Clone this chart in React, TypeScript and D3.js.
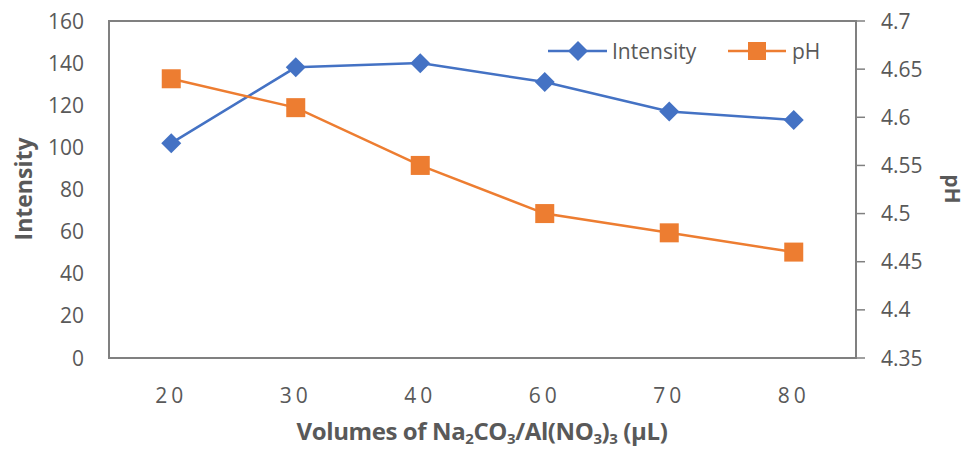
import React from "react";
import { scaleBand, scaleLinear, line } from "d3";

const volumes = ["20", "30", "40", "60", "70", "80"];
const intensity = [102, 138, 140, 131, 117, 113];
const ph = [4.64, 4.61, 4.55, 4.5, 4.48, 4.46];
const leftTicks = [0, 20, 40, 60, 80, 100, 120, 140, 160];
const rightTicks = [4.35, 4.4, 4.45, 4.5, 4.55, 4.6, 4.65, 4.7];

const BLUE = "#4472C4";
const ORANGE = "#ED7D31";
const AXIS = "#808080";
const TEXT = "#595959";
const FONT = "'Open Sans', 'Noto Sans', sans-serif";
const FS = 21;

function App() {
  const width = 969;
  const height = 451;
  const margin = { top: 21, right: 113, bottom: 93, left: 109 };

  const x = scaleBand<string>()
    .domain(volumes)
    .range([margin.left, width - margin.right]);
  const yL = scaleLinear().domain([0, 160]).range([height - margin.bottom, margin.top]);
  const yR = scaleLinear().domain([4.35, 4.7]).range([height - margin.bottom, margin.top]);
  const cx = (v: string) => (x(v) as number) + x.bandwidth() / 2;

  const intensityLine = line<number>()
    .x((_, i) => cx(volumes[i]))
    .y(d => yL(d));
  const phLine = line<number>()
    .x((_, i) => cx(volumes[i]))
    .y(d => yR(d));

  const x0 = margin.left;
  const x1 = width - margin.right;
  const yTop = margin.top;
  const yBot = height - margin.bottom;

  const diamond = (px: number, py: number, r: number) =>
    `M${px},${py - r}L${px + r},${py}L${px},${py + r}L${px - r},${py}Z`;

  return (
    <svg width={width} height={height} style={{ position: "absolute", left: 0, top: 0 }}>
      <rect x={0} y={0} width={width} height={height} fill="#fff" />
      {/* plot area border */}
      <rect x={x0} y={yTop} width={x1 - x0} height={yBot - yTop} fill="none" stroke={AXIS} strokeWidth={2} />

      {/* left axis labels */}
      {leftTicks.map(t => (
        <text key={t} x={84} y={yL(t)} dy="0.36em" textAnchor="end" fontSize={FS} fill={TEXT} fontFamily={FONT}>
          {t}
        </text>
      ))}

      {/* right axis ticks and labels */}
      {rightTicks.map(t => (
        <g key={t}>
          <line x1={x1} x2={x1 + 9} y1={yR(t)} y2={yR(t)} stroke={AXIS} strokeWidth={1.5} />
          <text x={881} y={yR(t)} dy="0.36em" fontSize={FS} fill={TEXT} fontFamily={FONT}>
            {t}
          </text>
        </g>
      ))}

      {/* x axis labels */}
      {volumes.map(v => (
        <text key={v} x={cx(v)} y={395} dy="0.36em" textAnchor="middle" fontSize={FS} letterSpacing={4} fill={TEXT} fontFamily={FONT}>
          {v}
        </text>
      ))}

      {/* axis titles */}
      <text
        transform={`translate(32, 189) rotate(-90)`}
        textAnchor="middle"
        fontSize={23}
        fontWeight="bold"
        fill={TEXT}
        fontFamily={FONT}
      >
        Intensity
      </text>
      <text
        transform={`translate(945, 189) rotate(90)`}
        textAnchor="middle"
        fontSize={21}
        fontWeight="bold"
        fill={TEXT}
        fontFamily={FONT}
      >
        pH
      </text>
      <text x={482} y={440} textAnchor="middle" fontSize={24} fontWeight="bold" fill={TEXT} fontFamily={FONT} letterSpacing={-0.4}>
        Volumes of Na<tspan dy={4} fontSize={15}>2</tspan>
        <tspan dy={-4}>CO</tspan>
        <tspan dy={4} fontSize={15}>3</tspan>
        <tspan dy={-4}>/Al(NO</tspan>
        <tspan dy={4} fontSize={15}>3</tspan>
        <tspan dy={-4}>)</tspan>
        <tspan dy={4} fontSize={15}>3</tspan>
        <tspan dy={-4}> (µL)</tspan>
      </text>

      {/* series */}
      <path d={intensityLine(intensity) || ""} fill="none" stroke={BLUE} strokeWidth={2.5} />
      <path d={phLine(ph) || ""} fill="none" stroke={ORANGE} strokeWidth={2.5} />
      {intensity.map((d, i) => (
        <path key={"i" + i} d={diamond(cx(volumes[i]), yL(d), 10)} fill={BLUE} />
      ))}
      {ph.map((d, i) => (
        <rect key={"p" + i} x={cx(volumes[i]) - 9.5} y={yR(d) - 9.5} width={19} height={19} fill={ORANGE} />
      ))}

      {/* legend */}
      <g>
        <line x1={548} x2={607} y1={51} y2={51} stroke={BLUE} strokeWidth={2.5} />
        <path d={diamond(578, 51, 10)} fill={BLUE} />
        <text x={612} y={51} dy="0.36em" fontSize={FS} fill={TEXT} fontFamily={FONT}>Intensity</text>
        <line x1={728} x2={786} y1={51} y2={51} stroke={ORANGE} strokeWidth={2.5} />
        <rect x={757 - 9} y={51 - 9} width={18} height={18} fill={ORANGE} />
        <text x={792} y={51} dy="0.36em" fontSize={FS} fill={TEXT} fontFamily={FONT}>pH</text>
      </g>
    </svg>
  );
}

export default App;
